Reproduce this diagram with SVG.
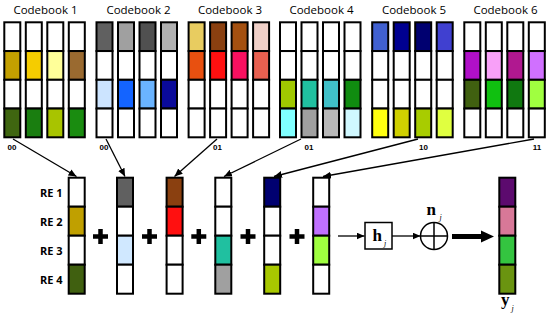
<svg xmlns="http://www.w3.org/2000/svg" width="550" height="317" viewBox="0 0 550 317">
<defs>
<style>
.cb rect{stroke:#000;stroke-width:2;width:16px;height:28.75px}
.re rect{stroke:#000;stroke-width:2;width:16px;height:29px}
.title{font-family:"Open Sans","Liberation Sans",sans-serif;font-size:11.5px;fill:#000;text-anchor:middle}
.bits{font-family:"Liberation Sans",Arial,sans-serif;font-weight:bold;font-size:8px;fill:#000;text-anchor:middle}
.relbl{font-family:"Open Sans","Liberation Sans",sans-serif;font-weight:bold;font-size:11px;fill:#000;text-anchor:end}
.sym{font-family:"Liberation Serif","Times New Roman",serif;font-weight:bold;font-size:17px;fill:#000}
.sub{font-family:"Liberation Serif","Times New Roman",serif;font-style:italic;font-size:8px;fill:#000}
.plus{stroke:#000;stroke-width:4.5;fill:none}
.conn{stroke:#000;stroke-width:1.3;fill:none}
</style>
<marker id="ah" markerUnits="userSpaceOnUse" markerWidth="9" markerHeight="8" refX="8" refY="3.5" orient="auto">
<path d="M0,0 L8,3.5 L0,7 z" fill="#000"/>
</marker>
</defs>
<rect width="550" height="317" fill="#fff"/>

<!-- Codebook titles -->
<text class="title" x="45.5" y="13.5">Codebook 1</text>
<text class="title" x="138.5" y="13.5">Codebook 2</text>
<text class="title" x="230" y="13.5">Codebook 3</text>
<text class="title" x="321.5" y="13.5">Codebook 4</text>
<text class="title" x="414" y="13.5">Codebook 5</text>
<text class="title" x="505.5" y="13.5">Codebook 6</text>

<!-- Codebook 1 -->
<g id="codebook1" class="cb">
<g transform="translate(4.3,22.3)"><rect y="0" fill="#fff"/><rect y="28.75" fill="#c4a000"/><rect y="57.5" fill="#fff"/><rect y="86.25" fill="#3f6610"/></g>
<g transform="translate(25.8,22.3)"><rect y="0" fill="#fff"/><rect y="28.75" fill="#f5cc00"/><rect y="57.5" fill="#fff"/><rect y="86.25" fill="#1a7e10"/></g>
<g transform="translate(47.3,22.3)"><rect y="0" fill="#fff"/><rect y="28.75" fill="#ffff99"/><rect y="57.5" fill="#fff"/><rect y="86.25" fill="#a8c400"/></g>
<g transform="translate(68.8,22.3)"><rect y="0" fill="#fff"/><rect y="28.75" fill="#9a6a30"/><rect y="57.5" fill="#fff"/><rect y="86.25" fill="#1a8c10"/></g>
</g>
<!-- Codebook 2 -->
<g id="codebook2" class="cb">
<g transform="translate(96.5,22.3)"><rect y="0" fill="#606060"/><rect y="28.75" fill="#fff"/><rect y="57.5" fill="#cce4ff"/><rect y="86.25" fill="#fff"/></g>
<g transform="translate(118,22.3)"><rect y="0" fill="#a0a0a0"/><rect y="28.75" fill="#fff"/><rect y="57.5" fill="#1464ff"/><rect y="86.25" fill="#fff"/></g>
<g transform="translate(139.5,22.3)"><rect y="0" fill="#505050"/><rect y="28.75" fill="#fff"/><rect y="57.5" fill="#6ab4ff"/><rect y="86.25" fill="#fff"/></g>
<g transform="translate(161,22.3)"><rect y="0" fill="#b0b0b0"/><rect y="28.75" fill="#fff"/><rect y="57.5" fill="#0a0a9a"/><rect y="86.25" fill="#fff"/></g>
</g>
<!-- Codebook 3 -->
<g id="codebook3" class="cb">
<g transform="translate(188.6,22.3)"><rect y="0" fill="#e8cc60"/><rect y="28.75" fill="#e85010"/><rect y="57.5" fill="#fff"/><rect y="86.25" fill="#fff"/></g>
<g transform="translate(210.1,22.3)"><rect y="0" fill="#8a4010"/><rect y="28.75" fill="#ff1010"/><rect y="57.5" fill="#fff"/><rect y="86.25" fill="#fff"/></g>
<g transform="translate(231.6,22.3)"><rect y="0" fill="#a45010"/><rect y="28.75" fill="#f81060"/><rect y="57.5" fill="#fff"/><rect y="86.25" fill="#fff"/></g>
<g transform="translate(253.1,22.3)"><rect y="0" fill="#f0d0c8"/><rect y="28.75" fill="#e86050"/><rect y="57.5" fill="#fff"/><rect y="86.25" fill="#fff"/></g>
</g>
<!-- Codebook 4 -->
<g id="codebook4" class="cb">
<g transform="translate(280,22.3)"><rect y="0" fill="#fff"/><rect y="28.75" fill="#fff"/><rect y="57.5" fill="#a0c800"/><rect y="86.25" fill="#80ffff"/></g>
<g transform="translate(301.5,22.3)"><rect y="0" fill="#fff"/><rect y="28.75" fill="#fff"/><rect y="57.5" fill="#20c0a0"/><rect y="86.25" fill="#a0a0a0"/></g>
<g transform="translate(323,22.3)"><rect y="0" fill="#fff"/><rect y="28.75" fill="#fff"/><rect y="57.5" fill="#40c0c8"/><rect y="86.25" fill="#b8b8b8"/></g>
<g transform="translate(344.5,22.3)"><rect y="0" fill="#fff"/><rect y="28.75" fill="#fff"/><rect y="57.5" fill="#108c10"/><rect y="86.25" fill="#d0f8ff"/></g>
</g>
<!-- Codebook 5 -->
<g id="codebook5" class="cb">
<g transform="translate(372.2,22.3)"><rect y="0" fill="#4060d0"/><rect y="28.75" fill="#fff"/><rect y="57.5" fill="#fff"/><rect y="86.25" fill="#ffff10"/></g>
<g transform="translate(393.7,22.3)"><rect y="0" fill="#000090"/><rect y="28.75" fill="#fff"/><rect y="57.5" fill="#fff"/><rect y="86.25" fill="#d0d000"/></g>
<g transform="translate(415.2,22.3)"><rect y="0" fill="#000070"/><rect y="28.75" fill="#fff"/><rect y="57.5" fill="#fff"/><rect y="86.25" fill="#a8cc00"/></g>
<g transform="translate(436.7,22.3)"><rect y="0" fill="#4040d0"/><rect y="28.75" fill="#fff"/><rect y="57.5" fill="#fff"/><rect y="86.25" fill="#e0ff40"/></g>
</g>
<!-- Codebook 6 -->
<g id="codebook6" class="cb">
<g transform="translate(464.3,22.3)"><rect y="0" fill="#fff"/><rect y="28.75" fill="#b010c8"/><rect y="57.5" fill="#406010"/><rect y="86.25" fill="#fff"/></g>
<g transform="translate(485.8,22.3)"><rect y="0" fill="#fff"/><rect y="28.75" fill="#f8a0f8"/><rect y="57.5" fill="#10c010"/><rect y="86.25" fill="#fff"/></g>
<g transform="translate(507.3,22.3)"><rect y="0" fill="#fff"/><rect y="28.75" fill="#b01890"/><rect y="57.5" fill="#107810"/><rect y="86.25" fill="#fff"/></g>
<g transform="translate(528.8,22.3)"><rect y="0" fill="#fff"/><rect y="28.75" fill="#d070ff"/><rect y="57.5" fill="#a0ff40"/><rect y="86.25" fill="#fff"/></g>
</g>

<!-- bit labels -->
<g id="bit-labels">
<text class="bits" x="12" y="150">00</text>
<text class="bits" x="104" y="150">00</text>
<text class="bits" x="217.5" y="150">01</text>
<text class="bits" x="309" y="150">01</text>
<text class="bits" x="423.5" y="150">10</text>
<text class="bits" x="537" y="150">11</text>
</g>

<!-- connectors -->
<g id="connectors">
<path class="conn" d="M13,139 L76.5,176.5" marker-end="url(#ah)"/>
<path class="conn" d="M106,139 L125,176.5" marker-end="url(#ah)"/>
<path class="conn" d="M217,139 L174.5,176.5" marker-end="url(#ah)"/>
<path class="conn" d="M301,139 L224,176.5" marker-end="url(#ah)"/>
<path class="conn" d="M418,139 L274,176.5" marker-end="url(#ah)"/>
<path class="conn" d="M534,139 L323,176.5" marker-end="url(#ah)"/>
<path class="conn" d="M338,236 L364.5,236" marker-end="url(#ah)"/>
<path class="conn" d="M392,236 L420.5,236" marker-end="url(#ah)"/>
<path d="M452,236.5 L483,236.5" stroke="#000" stroke-width="5" fill="none"/>
<path d="M481,230.5 L494,236.5 L481,242.5 z" fill="#000"/>
</g>

<!-- RE labels -->
<g id="re-labels">
<text class="relbl" x="62.5" y="196.5">RE 1</text>
<text class="relbl" x="62.5" y="226">RE 2</text>
<text class="relbl" x="62.5" y="254.5">RE 3</text>
<text class="relbl" x="62.5" y="283.5">RE 4</text>
</g>

<!-- selected codewords -->
<g id="sel1" class="re" transform="translate(68.7,177.7)"><rect y="0" fill="#fff"/><rect y="29" fill="#c0a000"/><rect y="58" fill="#fff"/><rect y="87" fill="#406010"/></g>
<g id="sel2" class="re" transform="translate(117,177.7)"><rect y="0" fill="#606060"/><rect y="29" fill="#fff"/><rect y="58" fill="#d0e8ff"/><rect y="87" fill="#fff"/></g>
<g id="sel3" class="re" transform="translate(166.6,177.7)"><rect y="0" fill="#8a4010"/><rect y="29" fill="#ff1010"/><rect y="58" fill="#fff"/><rect y="87" fill="#fff"/></g>
<g id="sel4" class="re" transform="translate(215.3,177.7)"><rect y="0" fill="#fff"/><rect y="29" fill="#fff"/><rect y="58" fill="#20c0a0"/><rect y="87" fill="#a0a0a0"/></g>
<g id="sel5" class="re" transform="translate(264.2,177.7)"><rect y="0" fill="#000070"/><rect y="29" fill="#fff"/><rect y="58" fill="#fff"/><rect y="87" fill="#a8c800"/></g>
<g id="sel6" class="re" transform="translate(313.2,177.7)"><rect y="0" fill="#fff"/><rect y="29" fill="#c070ff"/><rect y="58" fill="#a0ff40"/><rect y="87" fill="#fff"/></g>

<!-- plus signs -->
<g id="plus-signs" class="plus">
<path d="M93,236.5 H108 M100.5,229 V244"/>
<path d="M142,236.5 H157 M149.5,229 V244"/>
<path d="M191.3,236.5 H206.3 M198.8,229 V244"/>
<path d="M240.5,236.5 H255.5 M248,229 V244"/>
<path d="M289.5,236.5 H304.5 M297,229 V244"/>
</g>

<!-- channel h_j -->
<g id="channel">
<rect x="365" y="222.5" width="27" height="26.5" fill="#fff" stroke="#000" stroke-width="1.5"/>
<text class="sym" x="372.5" y="240.5">h</text>
<text class="sub" x="384" y="246">j</text>
</g>

<!-- noise adder -->
<g id="adder">
<circle cx="434" cy="236" r="13.5" fill="#fff" stroke="#000" stroke-width="1.5"/>
<path d="M420.5,236 H447.5 M434,222.5 V249.5" stroke="#000" stroke-width="1.5"/>
<text class="sym" x="426.5" y="214.5">n</text>
<text class="sub" x="439.5" y="220">j</text>
</g>

<!-- output y_j -->
<g id="output" class="re" transform="translate(499.3,177.7)"><rect y="0" fill="#5c0a6e"/><rect y="29" fill="#d87898"/><rect y="58" fill="#34c440"/><rect y="87" fill="#6a9410"/></g>
<g id="output-label">
<text class="sym" x="501" y="305">y</text>
<text class="sub" x="511.5" y="311">j</text>
</g>
</svg>
